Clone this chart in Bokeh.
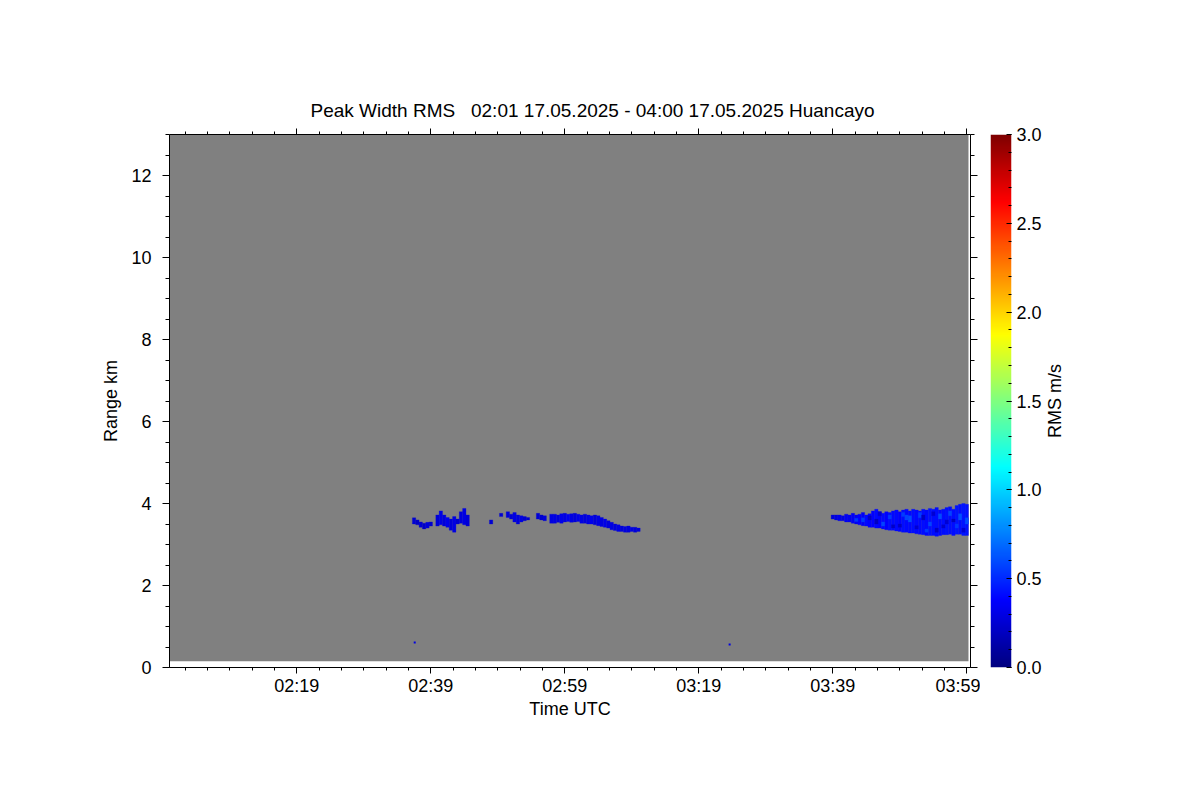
import numpy as np
from bokeh.plotting import figure
from bokeh.models import (LinearAxis, FixedTicker, LinearColorMapper, Title,
                          Range1d, ColumnDataSource, CustomJSTickFormatter)
from bokeh.core.properties import value
from bokeh.layouts import row
from bokeh.transform import linear_cmap
from bokeh.embed import file_html
from bokeh.resources import INLINE

# ---------------- data (time in minutes after 02:00 UTC, range in km, RMS in m/s)
x_tick_minutes = [19, 39, 59, 79, 99, 119]
x_tick_labels = ["02:19", "02:39", "02:59", "03:19", "03:39", "03:59"]
y_ticks = [0, 2, 4, 6, 8, 10, 12]
cbar_ticks = [0.0, 0.5, 1.0, 1.5, 2.0, 2.5, 3.0]
cbar_labels = ["0.0", "0.5", "1.0", "1.5", "2.0", "2.5", "3.0"]

time_start, time_end = 0.0, 119.55
range_start, range_end = 0.0, 13.0
# extent of the measured (no-signal, grey) field
data_time_start, data_time_end = 0.0, 119.25
data_range_start, data_range_end = 0.15, 13.0
rms_low, rms_high = 0.0, 3.0
cell_minutes = 0.5

# first cloud layer 02:36 - 03:10
c1_time = [36.5, 37.0, 37.5, 38.0, 38.5, 39.0, 40.0, 40.5, 41.0, 41.5, 42.0, 42.5,
           43.0, 43.5, 44.0, 44.5, 48.0, 49.5, 50.5, 51.0, 51.5, 52.0, 52.5, 53.0,
           53.5, 55.0, 55.5, 56.0, 57.0, 57.5, 58.0, 58.5, 59.0, 59.5, 60.0, 60.5,
           61.0, 61.5, 62.0, 62.5, 63.0, 63.5, 64.0, 64.5, 65.0, 65.5, 66.0, 66.5,
           67.0, 67.5, 68.0, 68.5, 69.0, 69.5, 70.0]
c1_base = [3.50, 3.48, 3.42, 3.38, 3.40, 3.45, 3.45, 3.48, 3.45, 3.42, 3.35, 3.30,
           3.50, 3.52, 3.48, 3.45, 3.50, 3.68, 3.66, 3.62, 3.55, 3.50, 3.55, 3.58,
           3.60, 3.62, 3.60, 3.58, 3.52, 3.52, 3.54, 3.52, 3.55, 3.56, 3.54, 3.55,
           3.56, 3.52, 3.52, 3.50, 3.50, 3.48, 3.46, 3.44, 3.42, 3.40, 3.36, 3.34,
           3.32, 3.32, 3.30, 3.30, 3.32, 3.30, 3.32]
c1_top = [3.65, 3.60, 3.55, 3.52, 3.54, 3.55, 3.72, 3.82, 3.72, 3.66, 3.62, 3.68,
          3.62, 3.80, 3.88, 3.72, 3.60, 3.76, 3.80, 3.74, 3.78, 3.72, 3.70, 3.68,
          3.66, 3.76, 3.72, 3.70, 3.74, 3.74, 3.72, 3.75, 3.76, 3.74, 3.75, 3.76,
          3.74, 3.72, 3.74, 3.72, 3.70, 3.72, 3.70, 3.66, 3.62, 3.58, 3.54, 3.50,
          3.48, 3.45, 3.44, 3.45, 3.42, 3.42, 3.40]
c1_rms = [0.25, 0.22, 0.25, 0.22, 0.28, 0.24, 0.26, 0.30, 0.28, 0.32, 0.26, 0.30,
          0.24, 0.28, 0.30, 0.26, 0.25, 0.25, 0.28, 0.25, 0.30, 0.27, 0.30, 0.25,
          0.24, 0.26, 0.24, 0.28, 0.30, 0.30, 0.28, 0.32, 0.30, 0.33, 0.30, 0.28,
          0.31, 0.30, 0.28, 0.30, 0.32, 0.28, 0.30, 0.29, 0.31, 0.28, 0.30, 0.28,
          0.30, 0.27, 0.29, 0.28, 0.30, 0.28, 0.27]

# second cloud layer 03:39 - 04:00
c2_time = [99.0, 99.5, 100.0, 100.5, 101.0, 101.5, 102.0, 102.5, 103.0, 103.5,
           104.0, 104.5, 105.0, 105.5, 106.0, 106.5, 107.0, 107.5, 108.0, 108.5,
           109.0, 109.5, 110.0, 110.5, 111.0, 111.5, 112.0, 112.5, 113.0, 113.5,
           114.0, 114.5, 115.0, 115.5, 116.0, 116.5, 117.0, 117.5, 118.0, 118.5,
           119.0]
c2_base = [3.62, 3.60, 3.58, 3.58, 3.55, 3.55, 3.52, 3.50, 3.48, 3.46,
           3.45, 3.42, 3.42, 3.40, 3.40, 3.38, 3.36, 3.35, 3.35, 3.33,
           3.32, 3.30, 3.30, 3.28, 3.28, 3.26, 3.25, 3.24, 3.22, 3.22,
           3.22, 3.20, 3.22, 3.24, 3.24, 3.25, 3.22, 3.25, 3.25, 3.22,
           3.22]
c2_top = [3.72, 3.72, 3.72, 3.70, 3.74, 3.72, 3.76, 3.72, 3.74, 3.78,
          3.72, 3.75, 3.82, 3.86, 3.80, 3.76, 3.80, 3.78, 3.82, 3.84,
          3.80, 3.84, 3.86, 3.82, 3.86, 3.84, 3.82, 3.86, 3.84, 3.88,
          3.86, 3.90, 3.84, 3.86, 3.90, 3.92, 3.86, 3.95, 3.98, 4.00,
          3.98]
c2_rms = [0.28, 0.30, 0.32, 0.30, 0.35, 0.33, 0.36, 0.35, 0.38, 0.36,
          0.40, 0.38, 0.38, 0.40, 0.38, 0.40, 0.38, 0.42, 0.40, 0.41,
          0.38, 0.42, 0.40, 0.40, 0.42, 0.40, 0.40, 0.42, 0.41, 0.43,
          0.42, 0.42, 0.40, 0.42, 0.43, 0.42, 0.42, 0.44, 0.42, 0.44,
          0.43]

# patches of differing RMS inside the second layer
c2x_time = [102.5, 103.5, 104.5, 105.5, 106.5, 107.5, 108.0, 109.0, 110.0, 110.5,
            111.5, 112.0, 112.5, 113.5, 114.0, 114.5, 115.0, 116.0, 116.5, 117.0,
            117.5, 118.0, 118.5, 119.0, 106.0, 109.5, 113.0, 115.5]
c2x_base = [3.56, 3.55, 3.60, 3.50, 3.45, 3.62, 3.40, 3.42, 3.60, 3.55,
            3.38, 3.65, 3.60, 3.45, 3.70, 3.30, 3.62, 3.50, 3.70, 3.55,
            3.40, 3.60, 3.30, 3.50, 3.70, 3.68, 3.30, 3.40]
c2x_top = [3.64, 3.65, 3.70, 3.62, 3.55, 3.72, 3.48, 3.50, 3.72, 3.70,
           3.46, 3.78, 3.72, 3.55, 3.80, 3.40, 3.75, 3.60, 3.82, 3.62,
           3.50, 3.75, 3.40, 3.65, 3.80, 3.78, 3.38, 3.48]
c2x_rms = [0.55, 0.55, 0.22, 0.20, 0.58, 0.55, 0.22, 0.22, 0.58, 0.60,
           0.25, 0.56, 0.22, 0.58, 0.25, 0.22, 0.60, 0.25, 0.58, 0.20,
           0.55, 0.62, 0.25, 0.60, 0.24, 0.56, 0.55, 0.24]

# isolated single detections
dot_time = [36.6, 83.6]
dot_range = [0.61, 0.56]
dot_rms = [0.3, 0.3]

title_text = "Peak Width RMS \u00a0 02:01 17.05.2025 - 04:00 17.05.2025 Huancayo"
cbar_title = "RMS m/s"

# ---------------- styling helpers
FONT = "Liberation Sans"


def jet(n=256):
    out = []
    for x in np.linspace(0, 1, n):
        r = np.clip(1.5 - abs(4 * x - 3), 0, 1)
        g = np.clip(1.5 - abs(4 * x - 2), 0, 1)
        b = np.clip(1.5 - abs(4 * x - 1), 0, 1)
        out.append("#%02x%02x%02x" % (int(r * 255), int(g * 255), int(b * 255)))
    return out


palette = jet()
mapper = LinearColorMapper(palette=palette, low=rms_low, high=rms_high)
blank = CustomJSTickFormatter(code="return '';")


def style_axis(ax, size="18px"):
    ax.axis_line_color = "black"
    ax.major_tick_line_color = "black"
    ax.minor_tick_line_color = "black"
    ax.major_tick_in = 0
    ax.minor_tick_in = 0
    ax.major_tick_out = 6
    ax.minor_tick_out = 3
    ax.major_label_text_font = FONT
    ax.major_label_text_font_size = size
    ax.major_label_text_color = "black"
    ax.axis_label_text_font = FONT
    ax.axis_label_text_font_size = "18px"
    ax.axis_label_text_font_style = "normal"
    ax.axis_label_text_color = "black"


# ---------------- main figure
p = figure(frame_width=801, frame_height=533,
           x_range=Range1d(time_start, time_end),
           y_range=Range1d(range_start, range_end),
           output_backend="svg", toolbar_location=None,
           min_border_left=169, min_border_top=134,
           min_border_right=10, min_border_bottom=90)
p.outline_line_color = None
p.xgrid.visible = False
p.ygrid.visible = False
p.background_fill_color = "white"
p.border_fill_color = "white"

x_minor = []
for m in x_tick_minutes:
    for k in range(-5, 6):
        v = m + k * 20.0 / 6.0
        if time_start < v < time_end and k != 0:
            x_minor.append(round(v, 4))
x_minor = sorted(set(x_minor))
y_minor = [i * 0.5 for i in range(0, 27)]

xt = FixedTicker(ticks=x_tick_minutes, minor_ticks=x_minor)
yt = FixedTicker(ticks=y_ticks, minor_ticks=y_minor)

p.xaxis.ticker = xt
p.xaxis.major_label_overrides = {m: l for m, l in zip(x_tick_minutes, x_tick_labels)}
p.xaxis.axis_label = "Time UTC"
style_axis(p.xaxis[0])
p.xaxis.major_label_standoff = 2
p.xaxis.axis_label_standoff = 0

p.yaxis.ticker = yt
p.yaxis.major_label_overrides = {t: str(t) for t in y_ticks}
p.yaxis.axis_label = "Range km"
style_axis(p.yaxis[0])
p.yaxis.major_tick_out = 7
p.yaxis.minor_tick_out = 4
p.yaxis.major_label_standoff = 11
p.yaxis.axis_label_standoff = 7

top_ax = LinearAxis(ticker=xt, formatter=blank)
style_axis(top_ax)
top_ax.major_label_standoff = 0
p.add_layout(top_ax, "above")

right_ax = LinearAxis(ticker=yt, formatter=blank)
style_axis(right_ax)
right_ax.major_tick_out = 7
right_ax.minor_tick_out = 4
right_ax.major_label_standoff = 0
p.add_layout(right_ax, "right")

# grey measured field
p.quad(left=[data_time_start], right=[data_time_end],
       bottom=[data_range_start], top=[data_range_end],
       fill_color="#808080", line_color=None)

cmap = linear_cmap("rms", palette, rms_low, rms_high)
for tt, bb, tp, rr in [(c1_time, c1_base, c1_top, c1_rms),
                       (c2_time, c2_base, c2_top, c2_rms),
                       (c2x_time, c2x_base, c2x_top, c2x_rms)]:
    src = ColumnDataSource(dict(
        left=[t - cell_minutes / 2 for t in tt],
        right=[t + cell_minutes / 2 for t in tt],
        bottom=bb, top=tp, rms=rr))
    p.quad(left="left", right="right", bottom="bottom", top="top", source=src,
           fill_color=cmap, line_color=cmap, line_width=0.3)

dsrc = ColumnDataSource(dict(x=dot_time, y=dot_range, rms=dot_rms))
p.scatter(x="x", y="y", source=dsrc, size=2, marker="square",
          fill_color=cmap, line_color=None)

title = Title(text=title_text, align="left", offset=141, text_font=FONT,
              text_font_size="19px", text_font_style="normal",
              text_color="black", standoff=16)
p.add_layout(title, "above")

# ---------------- colour bar figure
c = figure(frame_width=21, frame_height=533,
           x_range=Range1d(0, 1), y_range=Range1d(rms_low, rms_high),
           output_backend="svg", toolbar_location=None,
           min_border_left=10, min_border_top=134,
           min_border_right=31, min_border_bottom=90,
           y_axis_location="right")
c.xaxis.visible = False
c.xgrid.visible = False
c.ygrid.visible = False
c.outline_line_color = None
c.border_fill_color = "white"
grad = np.linspace(rms_low, rms_high, 512).reshape(-1, 1)
c.image(image=[grad], x=0, y=rms_low, dw=1, dh=rms_high - rms_low,
        color_mapper=mapper)
cy = c.yaxis[0]
cy.ticker = FixedTicker(ticks=cbar_ticks,
                        minor_ticks=[round(i * 0.1, 2) for i in range(0, 31)])
cy.major_label_overrides = {t: l for t, l in zip(cbar_ticks, cbar_labels)}
style_axis(cy)
cy.axis_line_color = None
cy.major_tick_out = 0
cy.minor_tick_out = 0
cy.major_tick_in = 5
cy.minor_tick_in = 3
cy.major_label_standoff = 5

# ---------------- colour bar title strip
t = figure(frame_width=20, frame_height=533,
           x_range=Range1d(0, 1), y_range=Range1d(rms_low, rms_high),
           output_backend="svg", toolbar_location=None,
           min_border_left=0, min_border_top=134,
           min_border_right=0, min_border_bottom=90)
t.axis.visible = False
t.grid.visible = False
t.outline_line_color = None
t.border_fill_color = "white"
t.background_fill_color = "white"
t.text(x=[0.5], y=[(rms_low + rms_high) / 2], text=[cbar_title],
       angle=np.pi / 2, text_align="center", text_baseline="middle",
       text_font=value(FONT), text_font_size="18px", text_color="black")

layout = row(p, c, t)
open("out.html", "w").write(file_html(layout, INLINE))
